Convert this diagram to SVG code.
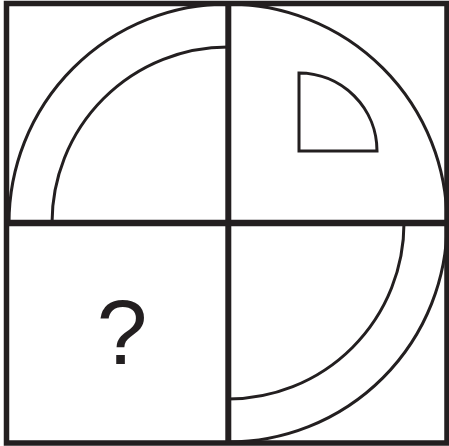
<svg xmlns="http://www.w3.org/2000/svg" width="449" height="446" viewBox="0 0 449 446">
<style>
.l{fill:none;stroke:#231f20;stroke-linecap:butt}
.thin{stroke-width:3}
.thick{stroke-width:5.5}
</style>
<rect width="449" height="446" fill="#fff"/>
<g id="top-left">
<path class="l thin" d="M9,223 A219,219 0 0 1 228,4"/>
<path class="l thin" d="M52,223 A176,176 0 0 1 228,47"/>
</g>
<g id="top-right">
<path class="l thin" d="M228,4 A219,219 0 0 1 447,223"/>
<path class="l thin" d="M299,151 L299,73 A78,78 0 0 1 377,151 Z"/>
</g>
<g id="bottom-right">
<path class="l thin" d="M447,223 A219,219 0 0 1 228,442"/>
<path class="l thin" d="M404,223 A176,176 0 0 1 228,399"/>
</g>
<g id="bottom-left">
<text x="122" y="364" text-anchor="middle" font-family="Liberation Sans, Arial, sans-serif" font-size="91" fill="#231f20">?</text>
</g>
<g id="grid">
<rect class="l thick" x="6.5" y="3.5" width="440.5" height="439.5"/>
<line class="l" stroke-width="6" x1="228.3" y1="3.5" x2="228.3" y2="443"/>
<line class="l" stroke-width="6.5" x1="6.5" y1="223" x2="447" y2="223"/>
</g>
</svg>
